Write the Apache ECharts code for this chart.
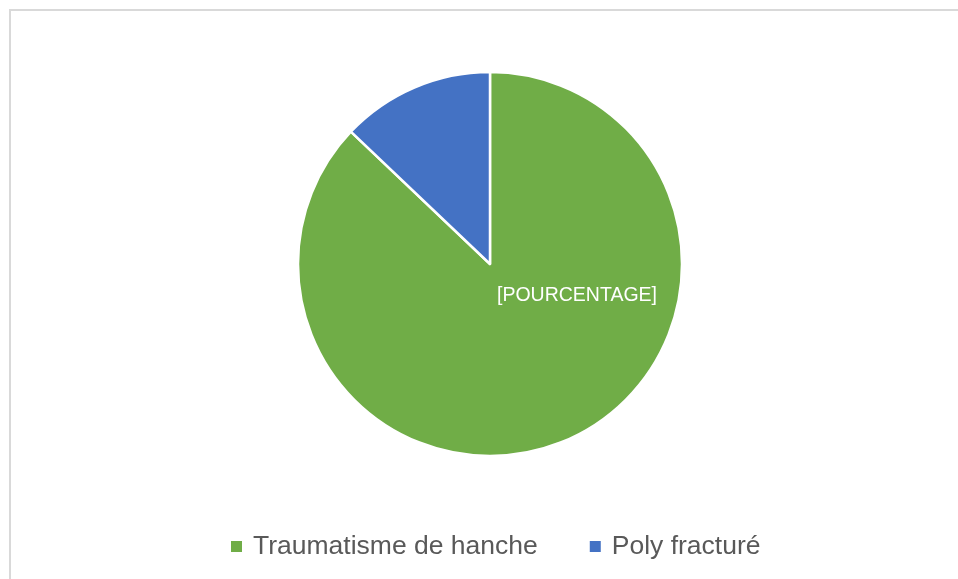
<!DOCTYPE html>
<html>
<head>
<meta charset="utf-8">
<script src="https://cdn.jsdelivr.net/npm/echarts@6/dist/echarts.min.js"></script>
<style>
  html, body { margin: 0; padding: 0; background: #fff; }
  #cadre { position: absolute; left: 9px; top: 9px; width: 980px; height: 600px; border-left: 2px solid #d9d9d9; border-top: 2px solid #d9d9d9; }
  #graphique { position: absolute; left: 0; top: 0; width: 958px; height: 579px; }
</style>
</head>
<body>
<div id="cadre"></div>
<div id="graphique"></div>
<script>
// Données
var categories = ['Traumatisme de hanche', 'Poly fracturé'];
var valeurs = [27, 4];
var couleurs = ['#70ad47', '#4472c4'];

var chart = echarts.init(document.getElementById('graphique'));

var donnees = categories.map(function (nom, i) {
    return {
        name: nom,
        value: valeurs[i],
        itemStyle: { color: couleurs[i] },
        label: { show: i === 0 }
    };
});

var option = {
    animation: false,
    legend: {
        data: categories,
        top: 528,
        left: 224,
        itemWidth: 13,
        itemHeight: 13,
        itemGap: 50,
        icon: 'rect',
        textStyle: {
            fontFamily: 'Liberation Sans',
            fontSize: 26.5,
            color: '#595959',
            padding: [0, 0, 0, 5]
        }
    },
    series: [{
        type: 'pie',
        center: [490, 264],
        radius: [0, 192],
        startAngle: 90,
        clockwise: true,
        itemStyle: { borderColor: '#fff', borderWidth: 2.5 },
        label: {
            position: 'inside',
            formatter: '[POURCENTAGE]',
            color: '#fff',
            fontFamily: 'Liberation Sans',
            fontSize: 19.5
        },
        labelLayout: function (params) {
            if (params.dataIndex === 0) {
                return { x: 577, y: 296, align: 'center', verticalAlign: 'middle' };
            }
        },
        labelLine: { show: false },
        emphasis: { disabled: true },
        data: donnees
    }]
};

chart.setOption(option);
</script>
</body>
</html>
